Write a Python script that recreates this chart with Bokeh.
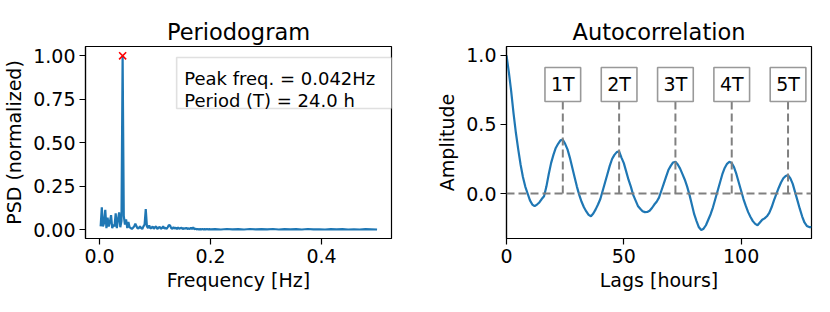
from bokeh.plotting import figure
from bokeh.layouts import row
from bokeh.models import Range1d, FixedTicker, PrintfTickFormatter, Label, BoxAnnotation, Span
from bokeh.embed import file_html
from bokeh.resources import INLINE

# ---------------- data ----------------
# Periodogram: frequency bins (k / 480 Hz) and normalized PSD
psd_freq = [k / 480 for k in range(1, 97)] + [k / 480 for k in range(100, 241, 5)]
psd_vals = [
    0.02, 0.13, 0.02, 0.04, 0.115, 0.01, 0.07, 0.02, 0.045, 0.085,
    0.01, 0.03, 0.02, 0.095, 0.01, 0.06, 0.10, 0.015, 0.05, 1.0,
    0.08, 0.03, 0.06, 0.01, 0.045, 0.015, 0.01, 0.005, 0.012, 0.02,
    0.035, 0.02, 0.008, 0.01, 0.02, 0.01, 0.005, 0.02, 0.03, 0.12,
    0.02, 0.01, 0.025, 0.008, 0.012, 0.02, 0.006, 0.015, 0.02, 0.005,
    0.012, 0.018, 0.006, 0.01, 0.02, 0.008, 0.012, 0.005, 0.015, 0.028,
    0.025, 0.01, 0.006, 0.015, 0.008, 0.012, 0.005, 0.014, 0.006, 0.01,
    0.012, 0.004, 0.01, 0.006, 0.012, 0.005, 0.009, 0.004, 0.012, 0.005,
    0.014, 0.004, 0.006, 0.003, 0.005, 0.002, 0.004, 0.003, 0.005, 0.002,
    0.004, 0.003, 0.005, 0.002, 0.004, 0.003,
    0.004, 0.002, 0.005, 0.003, 0.004, 0.002, 0.005, 0.003, 0.004, 0.003,
    0.005, 0.002, 0.004, 0.003, 0.004, 0.002, 0.005, 0.003, 0.003, 0.002,
    0.004, 0.003, 0.004, 0.002, 0.003, 0.002, 0.004, 0.003, 0.002,
]
peak_freq = [1 / 24]
peak_psd = [1.0]
peak_text = ["Peak freq. = 0.042Hz", "Period (T) = 24.0 h"]

# Autocorrelation: lags (hours) and amplitude
acf_lags = list(range(0, 131))
acf_vals = [
    1.0, 0.88, 0.74, 0.58, 0.44, 0.32, 0.21, 0.12, 0.05, 0.0,
    -0.05, -0.08, -0.092, -0.08, -0.065, -0.04, -0.02, 0.05, 0.14, 0.22,
    0.28, 0.33, 0.36, 0.385, 0.39, 0.36, 0.32, 0.26, 0.19, 0.12,
    0.05, -0.01, -0.06, -0.10, -0.13, -0.155, -0.165, -0.145, -0.115, -0.08,
    -0.04, 0.02, 0.08, 0.14, 0.20, 0.25, 0.28, 0.30, 0.305, 0.26,
    0.22, 0.16, 0.10, 0.05, -0.01, -0.05, -0.09, -0.11, -0.128, -0.135,
    -0.134, -0.125, -0.105, -0.08, -0.06, -0.03, 0.02, 0.07, 0.12, 0.17,
    0.20, 0.225, 0.23, 0.21, 0.18, 0.14, 0.10, 0.05, -0.01, -0.08,
    -0.15, -0.20, -0.245, -0.265, -0.255, -0.23, -0.19, -0.15, -0.10, -0.04,
    0.02, 0.08, 0.14, 0.185, 0.215, 0.23, 0.22, 0.19, 0.14, 0.08,
    0.02, -0.04, -0.09, -0.135, -0.17, -0.20, -0.22, -0.23, -0.21, -0.19,
    -0.18, -0.165, -0.14, -0.10, -0.05, -0.005, 0.04, 0.08, 0.11, 0.127,
    0.133, 0.11, 0.07, 0.01, -0.05, -0.11, -0.165, -0.21, -0.235, -0.243,
    -0.243,
]
period_lags = [24, 48, 72, 96, 120]
period_labels = ["1T", "2T", "3T", "4T", "5T"]

# ---------------- styling ----------------
FONT = "DejaVu Sans"
BLUE = "#1f77b4"
GREY = "#808080"
FS = "19px"
BOX_FS = "18px"


def style(p, xticks, xfmt, yticks, yfmt, xlabel, ylabel):
    p.title.text_font = FONT
    p.title.text_font_size = "22.5px"
    p.title.text_font_style = "normal"
    p.title.align = "center"
    p.title.standoff = 4
    p.title.text_color = "black"
    p.grid.visible = False
    p.outline_line_color = "black"
    p.outline_line_width = 1.2
    p.outline_line_alpha = 1.0
    p.background_fill_color = "white"
    p.border_fill_color = "white"
    p.xaxis.ticker = FixedTicker(ticks=xticks)
    p.xaxis.formatter = PrintfTickFormatter(format=xfmt)
    p.yaxis.ticker = FixedTicker(ticks=yticks)
    p.yaxis.formatter = PrintfTickFormatter(format=yfmt)
    p.xaxis.axis_label = xlabel
    p.yaxis.axis_label = ylabel
    for ax in (p.xaxis[0], p.yaxis[0]):
        ax.axis_line_color = "black"
        ax.axis_line_width = 1.2
        ax.major_tick_out = 6
        ax.major_tick_in = 0
        ax.major_tick_line_width = 1.2
        ax.minor_tick_out = 0
        ax.minor_tick_in = 0
        ax.major_label_text_font = FONT
        ax.major_label_text_font_size = FS
        ax.major_label_text_color = "black"
        ax.major_label_standoff = 4
        ax.axis_label_text_font = FONT
        ax.axis_label_text_font_size = FS
        ax.axis_label_text_font_style = "normal"
        ax.axis_label_text_color = "black"
    p.xaxis[0].axis_label_standoff = 3
    p.yaxis[0].axis_label_standoff = 5


# ---------------- periodogram ----------------
p1 = figure(frame_width=306, frame_height=192, output_backend="svg", toolbar_location=None,
            title="Periodogram", x_range=Range1d(-0.0252, 0.526), y_range=Range1d(-0.0497, 1.0535),
            min_border_left=81, min_border_right=10, min_border_top=46, min_border_bottom=62)
style(p1, [0.0, 0.2, 0.4], "%.1f", [0.0, 0.25, 0.5, 0.75, 1.0], "%.2f",
      "Frequency [Hz]", "PSD (normalized)")
p1.line(psd_freq, psd_vals, line_color=BLUE, line_width=2.2)
p1.scatter(peak_freq, peak_psd, marker="x", size=10, line_color="red", line_width=1.6)
p1.add_layout(BoxAnnotation(left=0.139, right=0.53, bottom=0.697, top=0.99,
                            fill_color="white", fill_alpha=1.0,
                            line_color="#999999", line_width=1.6, level="annotation"))
for txt, yy in zip(peak_text, [0.868, 0.743]):
    p1.add_layout(Label(x=0.1526, y=yy, text=txt, text_font=FONT, text_font_size=BOX_FS,
                        text_color="black", text_align="left", text_baseline="alphabetic"))

# ---------------- autocorrelation ----------------
p2 = figure(frame_width=305, frame_height=192, output_backend="svg", toolbar_location=None,
            title="Autocorrelation", x_range=Range1d(0, 130), y_range=Range1d(-0.326, 1.065),
            min_border_left=105, min_border_right=10, min_border_top=46, min_border_bottom=62)
style(p2, [0, 50, 100], "%d", [0.0, 0.5, 1.0], "%.1f", "Lags [hours]", "Amplitude")
p2.line(acf_lags, acf_vals, line_color=BLUE, line_width=2.2)
p2.add_layout(Span(location=0, dimension="width", line_color=GREY, line_width=2,
                   line_dash="8 4"))
p2.segment(x0=period_lags, y0=[0] * len(period_lags), x1=period_lags,
           y1=[0.69] * len(period_lags), line_color=GREY, line_width=2, line_dash="8 4")
for lag, lab in zip(period_lags, period_labels):
    p2.add_layout(Label(x=lag, y=0.79, text=lab, text_font=FONT, text_font_size=FS,
                        text_color="black", text_align="center", text_baseline="middle",
                        background_fill_color="white", background_fill_alpha=1.0,
                        border_line_color="#999999", border_line_width=1.6, padding=6))

layout = row(p1, p2)
open("out.html", "w").write(file_html(layout, INLINE))
